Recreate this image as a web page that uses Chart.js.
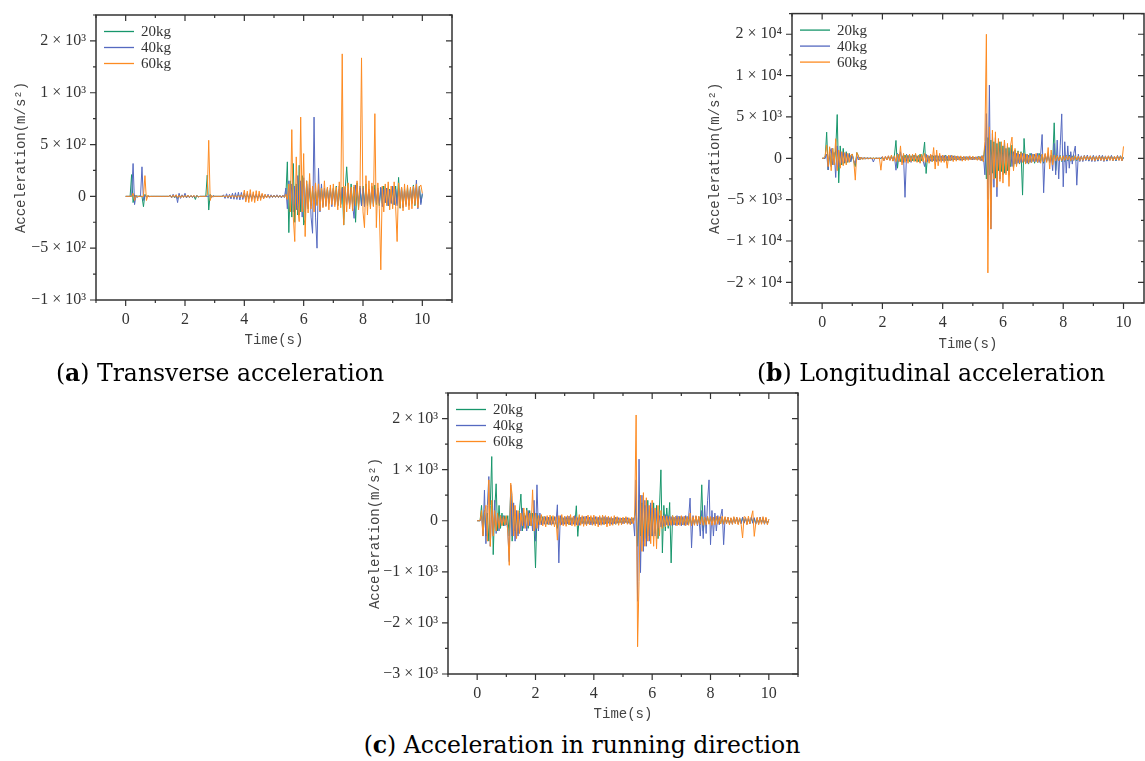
<!DOCTYPE html>
<html>
<head>
<meta charset="utf-8">
<script src="https://cdn.jsdelivr.net/npm/chart.js@4/dist/chart.umd.min.js"></script>
<style>
  html, body { margin: 0; padding: 0; background: #fff; }
  body { width: 1145px; height: 761px; overflow: hidden; position: relative; }
  canvas { position: absolute; }
  .caption {
    position: absolute;
    font-family: "DejaVu Serif", serif;
    font-size: 23.5px;
    color: #000;
    white-space: nowrap;
    transform: translate(-50%, -50%);
  }
</style>
</head>
<body>
<canvas id="chartA"></canvas>
<canvas id="chartB"></canvas>
<canvas id="chartC"></canvas>
<div class="caption" style="left:220px; top:373px;">(<b>a</b>) Transverse acceleration</div>
<div class="caption" style="left:931px; top:373px;">(<b>b</b>) Longitudinal acceleration</div>
<div class="caption" style="left:582px; top:745px;">(<b>c</b>) Acceleration in running direction</div>

<script>
// ==========================
// DATA (one sample every 0.05 s, one row per second)
// ==========================
const sampleStep = 0.05;
const seriesNames = ["20kg", "40kg", "60kg"];

// Transverse acceleration (m/s²)
const trans20 = [
  0,0,0,0,210,-60,15,-10,5,0, 0,0,-100,20,-5,5,0,0,0,0,
  0,0,0,0,0,0,0,0,0,0, 10,-8,12,-15,10,-20,15,-10,8,-5,
  10,-12,8,-10,6,-8,5,-30,10,-5, 0,0,0,0,0,205,-132,20,-10,5,
  0,0,0,0,0,0,5,-8,10,-12, 8,-10,12,-8,10,-12,15,-10,12,-8,
  10,-8,12,-10,8,-12,10,-8,6,-10, 8,-6,10,-8,6,-5,8,-6,5,-4,
  5,-4,6,-5,4,-5,6,-8,10,333, -350,150,-200,317,-250,120,-180,300,-150,200,
  -277,-220,150,-120,80,-90,60,-70,50,-80, 70,-60,90,-80,60,-50,80,-70,60,-40,
  80,-60,100,-90,70,-80,90,-277,60,285, 40,-80,120,-100,90,-250,130,-110,80,-90,
  100,-80,120,-90,70,-100,90,-70,110,-80, 60,-90,80,-70,100,-60,80,-90,70,-60,
  90,-80,100,-70,183,-115,80,-100,60,-70, 90,-80,70,-60,110,-90,80,-70,100,-60,
  20,
];
const trans40 = [
  0,0,0,0,0,317,-80,10,-10,5, 0,285,-40,10,-5,0,0,0,0,0,
  0,0,0,0,0,0,0,0,0,0, 10,-15,20,-10,15,-60,30,-20,15,-10,
  30,-15,10,-12,8,-10,6,-8,5,-5, 0,0,0,0,0,0,0,10,-8,5,
  0,0,0,0,0,0,15,-20,25,-18, 20,-25,30,-28,35,-30,40,-35,38,-30,
  35,-40,30,-25,28,-30,25,-20,22,-25, 20,-18,22,-20,18,-15,20,-18,15,-12,
  12,-10,15,-12,10,-15,12,-10,80,-120, 150,-100,120,-150,100,-130,200,-180,150,-200,
  180,-150,120,-100,160,-200,-356,765,-200,-500, 271,-150,120,-100,80,-90,70,-60,80,-100,
  70,-80,60,-90,100,-70,80,-60,90,-80, 70,-100,80,-90,-212,110,60,-80,100,-90,
  80,-100,90,-70,60,-80,100,-90,70,-60, 80,-70,90,-100,70,-60,80,-90,60,-70,
  100,-80,70,-90,80,-60,90,-110,70,-80, 60,-90,80,-70,100,-60,157,-120,90,-80,
  30,
];
const trans60 = [
  0,0,0,0,0,30,-40,10,-5,0, 0,0,0,200,-40,10,-5,0,0,0,
  0,0,0,0,0,0,0,0,0,0, 8,-10,12,-8,15,-12,10,-15,8,-10,
  10,-8,12,-10,8,-6,10,-8,6,-5, 0,0,0,0,0,20,541,-40,10,-5,
  0,0,0,0,0,0,5,-5,8,-10, 10,-8,12,-10,8,-12,10,-8,15,-12,
  60,-55,50,-60,65,-50,45,-60,55,-45, 50,-40,30,-25,20,-15,12,-10,8,-6,
  6,-5,8,-6,5,-4,6,-8,20,-30, 120,-150,644,-200,-436,381,-100,-244,765,-150,
  413,-388,150,-160,221,-120,100,-150,130,-90, 120,-140,80,-110,150,-100,90,-130,110,-80,
  120,-100,90,-130,140,-110,1375,-277,100,-150, 130,-120,90,-140,110,-90,150,-130,100,1336,
  -150,-302,200,-180,150,-120,130,-100,798,-302, 130,-120,-709,100,-150,120,-90,140,-130,100,
  -120,140,-100,-436,130,-110,90,-140,120,-100, 110,-130,90,-120,100,-80,120,-110,90,110,
  30,
];

// Longitudinal acceleration (m/s²)
const longi20 = [
  0,0,0,3160,-1400,800,-1000,1200,-800,1000, 5290,-2970,1500,-800,1200,-600,800,-500,600,-400,
  500,-400,-1000,700,300,-200,150,-100,100,-80, 80,-60,50,-40,40,-30,30,-30,20,-20,
  100,-150,120,-100,150,-200,300,-300,400,2160, -1200,500,-400,300,-500,400,-300,350,-400,300,
  -300,400,-350,300,-400,500,-300,400,1960,-1840, 400,-300,350,-400,300,-350,400,-300,350,-250,
  300,-350,400,-300,250,-300,350,-250,300,-200, 250,-200,200,-250,200,-150,200,-150,150,-200,
  200,-150,150,-200,250,-200,300,-400,1500,-2500, 2500,-2000,2200,-1800,2000,-2400,1800,-1500,2000,-1600,
  1500,-1800,1200,-1500,1300,-1000,1600,-1200,1000,-800, 900,-700,800,-4450,2400,-600,500,-700,600,-500,
  500,-600,400,-500,600,-400,500,-600,400,-300, 400,-500,300,-400,4290,-1500,400,-300,350,-400,
  300,-400,350,-300,400,-350,300,-250,350,-300, 250,-300,200,-250,300,-200,250,-300,200,-250,
  300,-250,200,-300,250,-200,300,-250,200,-300, 250,-200,300,-250,200,-300,250,-200,300,-250,
  100,
];
const longi40 = [
  0,0,0,500,-1400,600,1200,-800,700,-2320, 1500,-1000,800,-600,700,-500,600,-400,500,-400,
  400,-300,-600,300,-200,150,-100,80,-60,50, -40,40,-30,30,-450,20,-20,20,-20,20,
  200,-300,250,-200,300,-250,200,-300,250,-1440, 600,-400,800,-500,400,-4720,500,-300,400,-500,
  400,-300,500,-400,300,-500,400,-300,-1000,500, -400,300,-350,400,-300,350,-400,300,-350,300,
  -300,350,-300,250,-300,350,-250,300,-200,250, -200,200,-250,150,-200,200,-150,200,-150,150,
  -200,150,-150,200,-150,200,-300,400,-2000,5400, -5000,8860,-8570,3000,-3500,2500,-4650,2000,-2500,1800,
  -2000,2200,-1800,1500,-2000,1200,-1000,800,-700,600, -600,500,-500,600,-400,500,-600,400,-500,600,
  -400,500,-400,600,-500,400,2880,-4170,500,-400, 600,-500,400,-1500,1800,-2000,2200,-2500,1500,5370,
  -3450,2000,-1800,1500,-1200,800,-700,600,1480,-3250, 500,-400,300,-400,350,-300,400,-350,300,-400,
  350,-400,300,-350,400,-300,350,-400,300,-350, 300,-250,350,-300,250,-300,350,-250,300,-300,
  100,
];
const longi60 = [
  0,0,300,1600,-1000,1400,-1500,1200,-800,2370, -1500,1000,-1200,800,-900,700,-800,600,-500,400,
  500,-300,-2640,700,300,-200,150,-150,100,-100, 80,-80,60,-60,50,-50,40,-40,50,-1440,
  200,-300,250,-200,300,-250,400,-350,300,-400, 500,-400,1500,-800,600,-500,400,-600,500,-400,
  500,-400,600,-500,400,-600,500,-400,600,-500, 400,-600,500,-400,1300,-1300,1000,-900,600,-500,
  400,-500,300,-1200,400,-300,350,-400,300,-350, 300,-250,300,-350,250,-300,200,-250,300,-200,
  250,-200,200,-250,200,-300,300,-400,2000,15000, -13860,3800,-8530,3400,-2500,3200,-3500,2400,-2800,2000,
  -3000,2200,-2000,1800,-3400,1500,2560,-1500,1200,-1000, 800,-600,700,-500,600,-700,500,-600,400,-500,
  500,-400,600,-500,400,-600,500,-400,600,-500, 1300,-1300,1000,-800,400,-300,350,-300,250,-300,
  300,-250,300,-200,250,-300,200,-250,300,-200, 250,-300,200,-250,300,-200,250,-200,300,-250,
  200,-300,250,-200,300,-250,200,-300,250,-200, 300,-250,200,-300,250,-200,300,-250,200,-300,
  1440,
];

// Acceleration in running direction (m/s²)
const run20 = [
  0,0,0,300,-250,200,-300,150,-400,300, 1256,-664,200,723,-200,300,-150,150,-100,100,
  -80,100,-300,600,-400,300,-200,150,-250,200, 521,-200,150,-100,250,-150,200,-100,150,-50,
  -924,150,-80,60,-50,80,-60,50,-70,60, -50,80,-60,70,-50,-150,60,-50,80,-60,
  70,-60,50,-80,60,-50,70,-60,293,-306, 80,-60,70,-50,60,-80,50,-60,70,-50,
  60,-70,50,-60,80,-50,60,-70,50,-60, 70,-50,60,-60,50,-70,60,-50,40,-50,
  50,-40,60,-50,40,-60,50,-40,100,300, -500,400,-300,350,-400,300,-350,400,-300,250,
  -300,350,-250,300,-350,250,996,-631,300,-200, 250,-150,357,-826,100,-80,60,-70,80,-60,
  70,-80,60,-70,80,-60,70,-80,60,-70, 80,-60,70,-80,703,-200,60,-50,70,-60,
  50,-60,70,-50,60,-40,50,-60,70,-50, 60,-40,50,-60,40,-50,60,-40,50,-60,
  40,-50,60,-40,50,-60,40,-50,60,-40, 50,-60,40,-50,60,-40,50,-60,40,-50,
  20,
];
const run40 = [
  0,0,0,100,-300,600,-450,300,865,-500, 200,-300,400,-250,150,-200,100,-80,100,-100,
  80,-200,-800,700,-300,350,-400,200,-300,150, -200,250,-150,100,-200,200,-100,150,-200,400,
  -400,703,-200,150,-80,60,-70,80,-60,70, -80,60,-70,80,-60,312,-826,100,-80,60,
  -70,80,-60,90,-80,60,-70,100,-80,60, -90,70,-60,80,-70,90,-60,70,-80,60,
  -70,80,-60,70,-80,60,-70,80,-60,70, -50,60,-70,50,-60,70,-50,60,-40,50,
  -60,50,-40,60,-50,40,-60,50,-300,800, -1576,1205,-1016,500,-600,400,-500,300,-400,350,
  -300,250,-300,200,-150,100,-120,90,-100,120, -80,100,-90,80,-100,70,-90,100,-80,90,
  -100,80,-90,100,-80,70,443,-533,100,-80, 90,-100,80,-300,200,-350,300,-250,400,800,
  -470,200,-300,150,-200,100,-80,90,228,-470, 60,-50,70,-60,50,-70,60,-50,70,-60,
  50,-60,70,-50,60,-70,50,-60,70,-50, 60,-70,50,-60,70,-50,60,-70,50,-60,
  20,
];
const run60 = [
  0,0,0,200,-300,150,300,-400,800,-502, 400,-300,200,-200,150,-150,100,-100,80,-80,
  100,-200,-873,736,500,-300,300,-350,200,-250, 150,-100,250,-150,200,-100,150,-100,605,-200,
  150,-150,100,-80,120,-100,90,-120,100,-80, 110,-90,100,-120,80,-380,100,-90,120,-100,
  90,-110,100,-80,120,-100,90,-110,80,-100, 120,-90,100,-110,90,-100,110,-80,100,-90,
  110,-100,80,-120,100,-90,110,-80,100,-120, 90,-100,80,-90,100,-70,80,-90,60,-80,
  70,-60,80,-70,60,-80,70,-60,100,2070, -2467,-1185,500,-600,550,-500,450,-400,300,-450,
  400,-500,250,-550,300,-300,200,-150,100,-120, 90,-100,80,-90,100,-80,90,-100,80,-90,
  100,-80,90,-100,80,-90,150,-100,80,-90, 100,-80,90,-70,80,-90,70,-80,90,-70,
  80,-90,70,-80,90,-70,80,-60,90,-70, 80,-60,70,-80,60,-70,80,-60,70,-80,
  60,-70,-338,80,70,-80,90,-60,70,195, -306,-60,70,-80,60,-70,80,-60,70,-80,
  30,
];

// Y tick labels (as printed on each axis)
const transTicks = { "-1000": "−1 × 10³", "-500": "−5 × 10²", "0": "0", "500": "5 × 10²", "1000": "1 × 10³", "1500": "2 × 10³" };
const longiTicks = { "-15000": "−2 × 10⁴", "-10000": "−1 × 10⁴", "-5000": "−5 × 10³", "0": "0", "5000": "5 × 10³", "10000": "1 × 10⁴", "15000": "2 × 10⁴" };
const runTicks = { "-3000": "−3 × 10³", "-2000": "−2 × 10³", "-1000": "−1 × 10³", "0": "0", "1000": "1 × 10³", "2000": "2 × 10³" };

// ==========================
// STYLE
// ==========================
const lineColors = ["#17966b", "#5569c0", "#fd8b22"];
const axisColor = "#333";
const serifFont = "'Liberation Serif', 'Times New Roman', serif";
const monoFont = "'Liberation Mono', monospace";

function toPoints(values) {
  return values.map((v, i) => ({ x: +(i * sampleStep).toFixed(2), y: v }));
}

// frame, tick marks and inline legend
const framePlugin = {
  id: "frame",
  afterDraw(chart) {
    const { ctx, chartArea: a, scales } = chart;
    const labels = chart.options.plugins.frame.yLabels;
    ctx.save();
    ctx.strokeStyle = axisColor;
    ctx.lineWidth = 1.5;
    ctx.strokeRect(a.left, a.top, a.right - a.left, a.bottom - a.top);
    ctx.lineWidth = 1.2;
    ctx.beginPath();
    scales.y.ticks.forEach((t) => {
      const y = scales.y.getPixelForValue(t.value);
      const len = labels[String(t.value)] !== undefined ? 6 : 3;
      ctx.moveTo(a.left - len, y); ctx.lineTo(a.left, y);
      ctx.moveTo(a.right - len, y); ctx.lineTo(a.right, y);
    });
    scales.x.ticks.forEach((t) => {
      const x = scales.x.getPixelForValue(t.value);
      if (x > a.right + 0.5) return;
      const len = t.value % 2 === 0 ? 6 : 3;
      ctx.moveTo(x, a.bottom); ctx.lineTo(x, a.bottom + len);
      ctx.moveTo(x, a.top); ctx.lineTo(x, a.top + len);
    });
    ctx.stroke();

    // legend inside the plot, top-left
    ctx.font = "15px " + serifFont;
    ctx.textBaseline = "middle";
    ctx.fillStyle = axisColor;
    chart.data.datasets.forEach((ds, i) => {
      const y = a.top + 16.5 + 16 * i;
      ctx.strokeStyle = ds.borderColor;
      ctx.lineWidth = 1.3;
      ctx.beginPath();
      ctx.moveTo(a.left + 8, y);
      ctx.lineTo(a.left + 38, y);
      ctx.stroke();
      ctx.fillText(ds.label, a.left + 45, y + 1);
    });
    ctx.restore();
  },
};

// ==========================
// PANEL BUILDER
// ==========================
function makePanel(id, box, area, series, yRange, yLabels, xMax) {
  const canvas = document.getElementById(id);
  canvas.width = box.w;
  canvas.height = box.h;
  canvas.style.left = box.x + "px";
  canvas.style.top = box.y + "px";

  const yAxisWidth = area.left - box.x;
  const xAxisHeight = box.y + box.h - area.bottom;

  return new Chart(canvas, {
    type: "line",
    data: {
      datasets: series.map((vals, i) => ({
        label: seriesNames[i],
        data: toPoints(vals),
        borderColor: lineColors[i],
        borderWidth: 1,
        pointRadius: 0,
        tension: 0,
        order: 3 - i,
      })),
    },
    options: {
      responsive: false,
      animation: false,
      devicePixelRatio: 1,
      layout: {
        padding: { left: 0, top: area.top - box.y, right: box.x + box.w - area.right, bottom: 0 },
      },
      plugins: {
        legend: { display: false },
        tooltip: { enabled: false },
        frame: { yLabels },
      },
      scales: {
        x: {
          type: "linear",
          min: -1,
          max: xMax,
          afterBuildTicks: (s) => {
            s.ticks = [-1, 0, 1, 2, 3, 4, 5, 6, 7, 8, 9, 10, 11]
              .filter((v) => v <= xMax)
              .map((v) => ({ value: v }));
          },
          afterFit: (s) => { s.height = xAxisHeight; },
          grid: { display: false, drawTicks: true, tickLength: 6 },
          border: { display: false },
          ticks: {
            autoSkip: false,
            maxRotation: 0,
            padding: 4,
            color: axisColor,
            font: { family: serifFont, size: 16 },
            callback: (v) => (v >= 0 && v <= 10 && v % 2 === 0 ? String(v) : ""),
          },
          title: {
            display: true,
            text: "Time(s)",
            color: "#444",
            font: { family: monoFont, size: 14 },
            padding: { top: 0, bottom: 1 },
          },
        },
        y: {
          type: "linear",
          min: yRange[0],
          max: yRange[1],
          ticks: {
            stepSize: yRange[2],
            autoSkip: false,
            padding: 4,
            color: axisColor,
            font: { family: serifFont, size: 16 },
            callback: (v) => yLabels[String(v)] || "",
          },
          afterFit: (s) => { s.width = yAxisWidth; },
          grid: { display: false, drawTicks: true, tickLength: 6 },
          border: { display: false },
          title: {
            display: true,
            text: "Acceleration(m/s²)",
            color: "#444",
            font: { family: monoFont, size: 14 },
            padding: { top: area.yTitleX - box.x - 8.4, bottom: 0 },
          },
        },
      },
    },
    plugins: [framePlugin],
  });
}

// ==========================
// DRAW ALL THREE PANELS
// ==========================
makePanel(
  "chartA",
  { x: 0, y: 0, w: 460, h: 350 },
  { left: 96, right: 452, top: 15, bottom: 300, yTitleX: 21 },
  [trans20, trans40, trans60],
  [-1000, 1750, 250],
  transTicks,
  11
);

makePanel(
  "chartB",
  { x: 700, y: 0, w: 460, h: 354 },
  { left: 792, right: 1144, top: 12, bottom: 303, yTitleX: 715 },
  [longi20, longi40, longi60],
  [-17500, 17500, 2500],
  longiTicks,
  10.68
);

makePanel(
  "chartC",
  { x: 360, y: 378, w: 446, h: 346 },
  { left: 448, right: 798, top: 393, bottom: 674, yTitleX: 375 },
  [run20, run40, run60],
  [-3000, 2500, 500],
  runTicks,
  11
);
</script>
</body>
</html>
